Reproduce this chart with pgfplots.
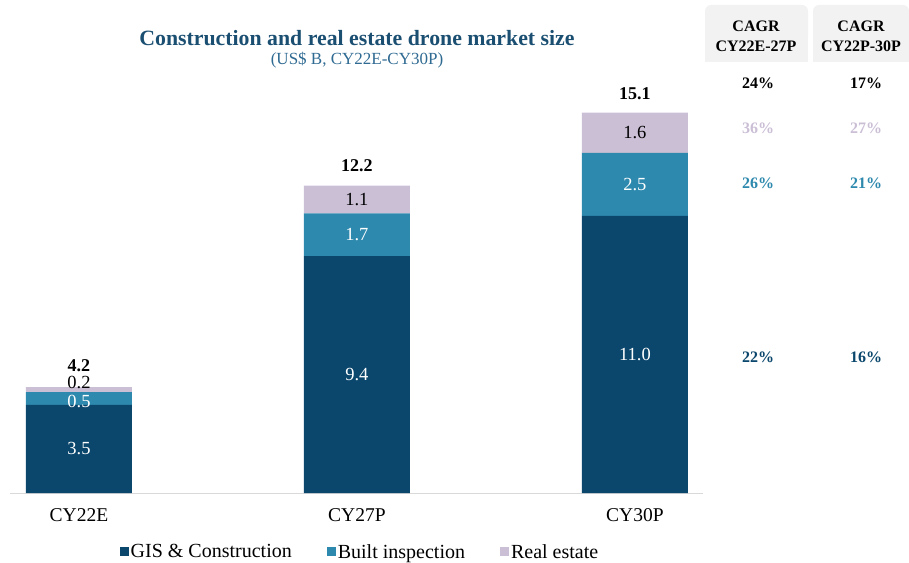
\documentclass[border=0pt]{standalone}
\usepackage{pgfplots}
\pgfplotsset{compat=1.18}
\usepackage{fontspec}
\setmainfont{Liberation Serif}
\definecolor{gis}{HTML}{0B476C}
\definecolor{built}{HTML}{2E89AE}
\definecolor{realest}{HTML}{CBBFD6}
\definecolor{ttl}{HTML}{1B4F72}
\definecolor{sub}{HTML}{2F6A92}
\definecolor{hdr}{HTML}{F2F2F2}
\definecolor{axl}{HTML}{D9D9D9}
\tikzset{vl/.style={font=\fontsize{18.5}{20}\selectfont}, vb/.style={font=\fontsize{18}{20}\selectfont\bfseries}}
\begin{document}
\begin{tikzpicture}[x=1pt,y=1pt]
\useasboundingbox (0,0) rectangle (909,562);
% title
\node[font=\fontsize{21.8}{24}\selectfont\bfseries, text=ttl] at (357,524) {Construction and real estate drone market size};
\node[font=\fontsize{17}{19}\selectfont, text=sub] at (357,502) {(US\$ B, CY22E-CY30P)};
% CAGR headers
\fill[hdr, rounded corners=6pt] (705,520) rectangle (808,557);
\fill[hdr] (705,500) rectangle (808,530);
\fill[hdr, rounded corners=6pt] (813,520) rectangle (909,557);
\fill[hdr] (813,500) rectangle (909,530);
\node[font=\fontsize{16}{20}\selectfont\bfseries, align=center] at (756,526) {CAGR\\CY22E-27P};
\node[font=\fontsize{16}{20}\selectfont\bfseries, align=center] at (861,526) {CAGR\\CY22P-30P};
\tikzset{cg/.style={font=\fontsize{16}{18}\selectfont\bfseries}}
\node[cg] at (758,479) {24\%};
\node[cg] at (866,479) {17\%};
\node[cg,text=realest] at (758,434) {36\%};
\node[cg,text=realest] at (866,434) {27\%};
\node[cg,text=built] at (758,379) {26\%};
\node[cg,text=built] at (866,379) {21\%};
\node[cg,text=gis] at (758,205) {22\%};
\node[cg,text=gis] at (866,205) {16\%};
\begin{axis}[
  at={(10pt,69pt)}, anchor=south west,
  scale only axis, width=693pt, height=393pt,
  xmin=-0.248, xmax=2.245, ymin=0, ymax=15.6,
  ybar stacked, bar width=106pt,
  axis x line=bottom, axis y line=none,
  x axis line style={draw=axl, line width=1pt, -},
  xtick=data, xticklabels={CY22E,CY27P,CY30P},
  major tick length=0pt,
  xticklabel style={font=\fontsize{19.5}{21}\selectfont, yshift=-12pt},
  clip=false,
  legend columns=3,
  legend style={at={(0.505,-0.15)}, anchor=center, draw=none, fill=none,
    font=\fontsize{20}{21}\selectfont,
    /tikz/every even column/.append style={column sep=33pt}},
  legend image code/.code={\fill[#1] (0pt,-4.5pt) rectangle (9pt,4.5pt);},
]
\addplot[fill=gis, draw=none] coordinates {(0,3.5) (1,9.4) (2,11.0)};
\addplot[fill=built, draw=none] coordinates {(0,0.5) (1,1.7) (2,2.5)};
\addplot[fill=realest, draw=none] coordinates {(0,0.2) (1,1.1) (2,1.6)};
\legend{GIS \& Construction, Built inspection, Real estate}
\coordinate (a1) at (axis cs:0,1.75);
\coordinate (a2) at (axis cs:0,3.62);
\coordinate (a3) at (axis cs:0,4.37);
\coordinate (a4) at (axis cs:0,5.05);
\coordinate (b1) at (axis cs:1,4.7);
\coordinate (b2) at (axis cs:1,10.25);
\coordinate (b3) at (axis cs:1,11.65);
\coordinate (b4) at (axis cs:1,12.98);
\coordinate (c1) at (axis cs:2,5.5);
\coordinate (c2) at (axis cs:2,12.25);
\coordinate (c3) at (axis cs:2,14.3);
\coordinate (c4) at (axis cs:2,15.87);
\end{axis}
\node[vl,text=white] at (a1) {3.5};
\node[vl,text=white] at (a2) {0.5};
\node[vl] at (a3) {0.2};
\node[vb] at (a4) {4.2};
\node[vl,text=white] at (b1) {9.4};
\node[vl,text=white] at (b2) {1.7};
\node[vl] at (b3) {1.1};
\node[vb] at (b4) {12.2};
\node[vl,text=white] at (c1) {11.0};
\node[vl,text=white] at (c2) {2.5};
\node[vl] at (c3) {1.6};
\node[vb] at (c4) {15.1};
\end{tikzpicture}
\end{document}
